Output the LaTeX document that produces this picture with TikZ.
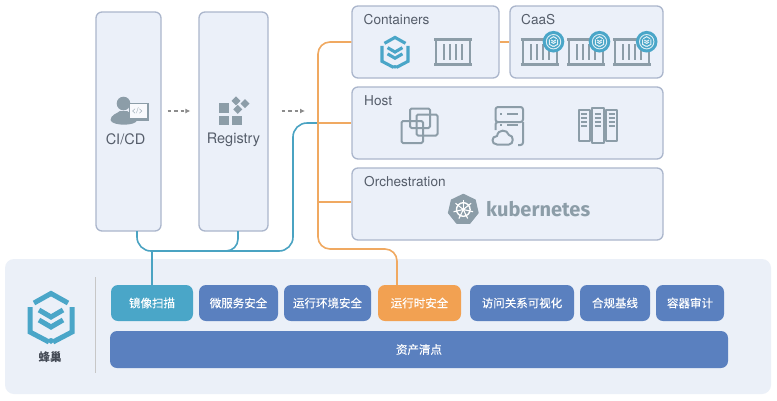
\documentclass[tikz,border=0pt]{standalone}
\usepackage{fontspec}
\setmainfont{TeX Gyre Heros}
\newfontfamily\cjk[FakeBold=0.2]{Noto Sans CJK SC}
\newfontfamily\cjkb{Noto Sans CJK SC}
\newfontfamily\kubefont{Fira Sans}
\usetikzlibrary{arrows.meta,shapes.geometric,calc}
\definecolor{boxfill}{HTML}{EBF0F9}
\definecolor{boxline}{HTML}{ABB6CC}
\definecolor{panel}{HTML}{EBF0F8}
\definecolor{btnblue}{HTML}{5A80BF}
\definecolor{teal}{HTML}{4AA6C8}
\definecolor{orng}{HTML}{F2A152}
\definecolor{lineor}{HTML}{F0A961}
\definecolor{linebl}{HTML}{4AA3C2}
\definecolor{icon}{HTML}{8C9DA8}
\definecolor{label}{HTML}{555D6A}
\tikzset{
  cbox/.style={draw=boxline,fill=boxfill,line width=1.3pt,rounded corners=6pt,inner sep=0pt},
  btn/.style={rounded corners=7pt,inner sep=0pt,minimum height=36pt,text=white,font=\cjk\fontsize{11.5}{13}\selectfont},
  title/.style={anchor=west,inner sep=0pt,text=label,font=\fontsize{13.6}{15}\selectfont},
  boxlabel/.style={inner sep=0pt,text=label,font=\fontsize{14.5}{17}\selectfont},
  orline/.style={draw=lineor,line width=1.6pt},
  blline/.style={draw=linebl,line width=1.6pt},
  flow/.style={draw=black!45,line width=1.2pt,dash pattern=on 3.5pt off 3pt,-{Latex[length=5pt,width=5pt]}},
  iconline/.style={draw=icon,line width=2pt,line join=round},
}
\newcommand{\hive}[4]{%
  \begin{scope}[shift={(#1,#2)},scale=#3,draw=#4,line width=#3*5pt,line join=miter]
    \draw (-17,-14) -- (0,-23.5) -- (17,-14);
    \draw (-21,-10) -- (-21,15) -- (-2,25);
    \draw (21,-10) -- (21,15) -- (2,25);
    \fill[#4] (-5,23) -- (0,27) -- (5,23) -- (0,21) -- cycle;
    \draw (-12,-7) -- (0,0) -- (12,-7);
    \draw (-12,3) -- (0,10) -- (12,3);
  \end{scope}}
\newcommand{\boxcontainer}[2]{%
  \begin{scope}[shift={(#1,#2)}]
    \draw[iconline,line width=2.4pt] (0,0.5) -- (38,0.5) (0,25.5) -- (38,25.5);
    \draw[iconline] (2,0) -- (2,26) (36,0) -- (36,26);
    \draw[iconline] (10,5) -- (10,21) (16,5) -- (16,21) (22,5) -- (22,21) (28,5) -- (28,21);
  \end{scope}}
\newcommand{\badge}[2]{%
  \fill[teal] (#1,#2) circle (10.8pt);
  \draw[white!80!teal,line width=.9pt] (#1,#2) circle (7.2pt);
  \hive{#1}{#2-.3}{.2}{white!85!teal}}
\begin{document}
\begin{tikzpicture}[x=1pt,y=-1pt]
\useasboundingbox (0,0) rectangle (777,400);
\fill[white] (0,0) rectangle (777,400);

% bottom panel
\node[fill=panel,rounded corners=9pt,minimum width=766pt,minimum height=135pt,inner sep=0pt] (panelbox) at (388,326.5) {};
\coordinate (divtop) at (95,277);
\coordinate (divbot) at (95,373);
\draw[draw=black!22,line width=1pt] (divtop) -- (divbot);
\hive{51}{317}{1}{teal}
\node[inner sep=0pt,text=label!80!black,font=\cjkb\bfseries\fontsize{11.5}{13}\selectfont] (brand) at (50,357.5) {蜂巢};

% upper boxes
\node[cbox,minimum width=65pt,minimum height=219pt] (cicd) at (128.5,121.5) {};
\node[cbox,minimum width=69pt,minimum height=219pt] (registry) at (233.5,121.5) {};
\node[cbox,minimum width=147pt,minimum height=72pt] (containers) at (425.5,42) {};
\node[cbox,minimum width=153pt,minimum height=72pt] (caas) at (586.5,42) {};
\node[cbox,minimum width=311pt,minimum height=72pt] (host) at (507.5,123) {};
\node[cbox,minimum width=311pt,minimum height=72pt] (orch) at (507.5,204) {};

\node[boxlabel] (cicdl) at (125.5,139) {CI/CD};
\node[boxlabel] (regl) at (233.5,140) {Registry};
\node[title] (contl) at (363.5,20) {Containers};
\node[title] (caasl) at (521,20) {CaaS};
\node[title] (hostl) at (364,100.5) {Host};
\node[title] (orchl) at (364,182) {Orchestration};

% buttons
\node[btn,fill=teal,minimum width=82pt] (scan) at (152,303) {镜像扫描};
\node[btn,fill=btnblue,minimum width=79pt] (micro) at (238.5,303) {微服务安全};
\node[btn,fill=btnblue,minimum width=87pt] (runenv) at (327.5,303) {运行环境安全};
\node[btn,fill=orng,minimum width=83pt] (runtime) at (419.5,303) {运行时安全};
\node[btn,fill=btnblue,minimum width=104pt] (access) at (522,303) {访问关系可视化};
\node[btn,fill=btnblue,minimum width=70pt] (comply) at (615,303) {合规基线};
\node[btn,fill=btnblue,minimum width=68pt] (audit) at (690,303) {容器审计};
\node[btn,fill=btnblue,minimum width=618pt,minimum height=37pt] (asset) at (419,349.5) {资产清点};

% connectors
\coordinate (oc) at (318,249);
\coordinate (ob) at (397,249);
\coordinate (oe) at (397,285);
\coordinate (bc) at (293,251);
\coordinate (bl) at (137,251);
\coordinate (bls) at (137,231);
\coordinate (brs) at (238,231);
\coordinate (brb) at (238,251);
\coordinate (bj) at (225,251);
\coordinate (bt) at (318,123);
\coordinate (scanj) at (152,251);
\draw[blline,rounded corners=14pt] (bls) -- (bl) -- (bc) -- (bc |- bt) -- (bt);
\draw[blline,rounded corners=12pt] (brs) -- (brb) -- (bj);
\draw[blline] (scanj) -- (scan.north);
\draw[orline,rounded corners=12pt] (containers.west) -- (containers.west -| oc) -- (oc) -- (ob) -- (oe);
\draw[orline] (oc |- host.west) -- (host.west);
\draw[orline] ([yshift=2pt]oc |- orch.west) -- ([yshift=2pt]orch.west);
\draw[orline] (containers.east) -- (caas.west);

\coordinate (fy) at (0,111);
\coordinate (fe) at (305,111);
\draw[flow,shorten <=6pt,shorten >=8pt] (cicd.east |- fy) -- (registry.west |- fy);
\draw[flow,shorten <=13pt] (registry.east |- fy) -- (fe);

% person icon
\fill[icon] (123.5,103.5) circle (6.8pt);
\fill[icon] (110.5,120) .. controls (110.5,115) and (117,113.5) .. (120,111) -- (127,111) .. controls (131,114) and (137,115) .. (137,120) .. controls (137,126) and (112,126.5) .. (110.5,120) -- cycle;
\fill[white!70!boxfill,draw=icon,line width=1.2pt] (129.5,103.5) rectangle (148,118.5);
\fill[icon] (129,118) rectangle (148.5,120.5);
\node[inner sep=0pt,text=icon,font=\fontsize{8}{8}\selectfont] (codetag) at (137.5,111) {</>};

% registry icon
\fill[icon] (219,103) rectangle (229,112.5);
\fill[icon] (219,115.5) rectangle (229,125);
\fill[icon] (232,115.5) rectangle (242,125);
\foreach \cx/\cy in {236/100.8,245/103.7,237.8/109.4}{
  \fill[icon] (\cx-4.5,\cy) -- (\cx,\cy-4.5) -- (\cx+4.5,\cy) -- (\cx,\cy+4.5) -- cycle;}

% containers row
\hive{395}{52}{.62}{teal}
\boxcontainer{434}{39}
\boxcontainer{520.5}{39}
\boxcontainer{567}{39}
\boxcontainer{613}{39}
\badge{553.5}{41.7}
\badge{599.5}{41.7}
\badge{646.7}{41.7}

% host icons
\begin{scope}[iconline,rounded corners=1.5pt]
  \draw (401.5,121) rectangle (423,143);
  \draw (410,108.5) rectangle (430,128);
  \draw (416.5,114.5) rectangle (437.5,135.5);
\end{scope}
\begin{scope}[iconline,rounded corners=2.5pt]
  \draw (499,122) -- (495.5,122) -- (495.5,107) -- (523,107) -- (523,122) -- (499,122) -- (495.5,122) -- (495.5,130);
  \draw (523,122) -- (523,145) -- (518,145);
\end{scope}
\fill[icon] (500,113) rectangle (502,115);
\fill[icon] (507,113) rectangle (518,115);
\fill[icon] (500,123.5) rectangle (502,125.5);
\fill[icon] (507,123.5) rectangle (518,125.5);
\draw[iconline,line join=round] (497,144.5) .. controls (491,144.5) and (491,136) .. (497,136) .. controls (498,129) and (507,129) .. (509,135) .. controls (514,135) and (514,144.5) .. (509,144.5) -- cycle;
\draw[iconline] (578.5,110) rectangle (589.5,140.5);
\draw[iconline] (591.5,107.5) rectangle (604,142.5);
\draw[iconline] (605.7,110) rectangle (617,140.5);
\foreach \rx in {581,594.5,608.5}{
  \foreach \ry in {114,118,122,126}{
    \draw[draw=icon,line width=1.2pt] (\rx,\ry) -- (\rx+6,\ry);}}

% kubernetes
\node[regular polygon,regular polygon sides=7,fill=icon,draw=icon,line join=round,line width=1.5pt,minimum size=30pt,inner sep=0pt] (kube) at (463.3,209.5) {};
\draw[white,line width=1.4pt] (kube.center) circle (6.8pt);
\foreach \a in {90,141.4,192.9,244.3,295.7,347.1,38.6}{
  \draw[white,line width=1.1pt] (kube.center) -- ++(\a:10pt);}
\fill[white] (kube.center) circle (1.8pt);
\node[inner sep=0pt,anchor=west,text=icon,font=\kubefont\bfseries\fontsize{20}{22}\selectfont] (kubet) at (486,209.5) {kubernetes};
\end{tikzpicture}
\end{document}
